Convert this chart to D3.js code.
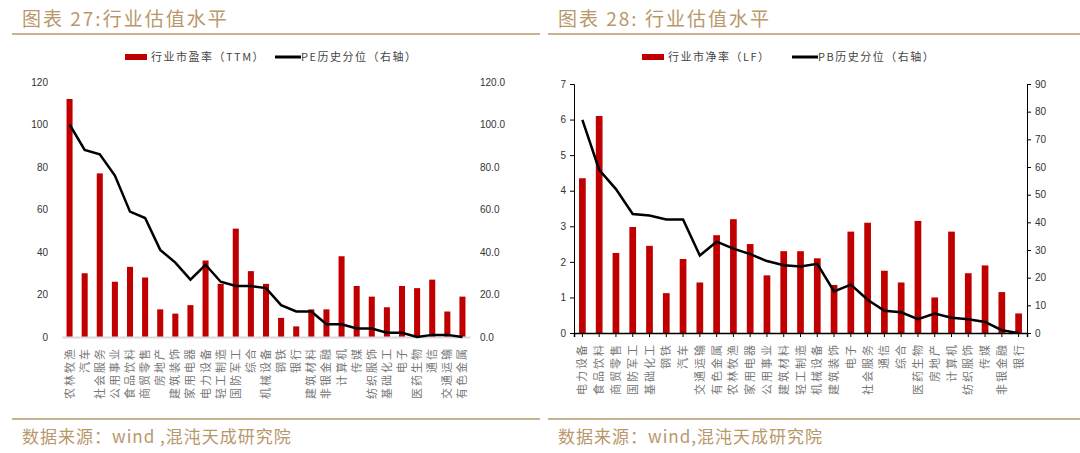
<!DOCTYPE html>
<html><head><meta charset="utf-8">
<script src="https://cdn.jsdelivr.net/npm/d3@7"></script>
<style>body{margin:0;background:#fff}text{font-family:"Noto Sans CJK SC",sans-serif}</style>
</head><body><svg id="c" width="1080" height="453"></svg>
<script>
"use strict"
const peCats = ["农林牧渔","汽车","社会服务","公用事业","食品饮料","商贸零售","房地产","建筑装饰","家用电器","电力设备","轻工制造","国防军工","综合","机械设备","钢铁","银行","建筑材料","非银金融","计算机","传媒","纺织服饰","基础化工","电子","医药生物","通信","交通运输","有色金属"];
const peVals = [112,30,77,26,33,28,13,11,15,36,25,51,31,25,9,5,13,13,38,24,19,14,24,23,27,12,19];
const pePct = [100,88,86,76,59,56,41,35,27,34,26,24,24,23,15,12,12,6,6,4,4,2,2,0,1,1,0];
const pbCats = ["电力设备","食品饮料","商贸零售","国防军工","基础化工","钢铁","汽车","交通运输","有色金属","农林牧渔","家用电器","公用事业","建筑材料","轻工制造","机械设备","建筑装饰","电子","社会服务","通信","综合","医药生物","房地产","计算机","纺织服饰","传媒","非银金融","银行"];
const pbVals = [4.35,6.1,2.25,2.98,2.45,1.12,2.08,1.42,2.75,3.2,2.5,1.62,2.3,2.3,2.1,1.35,2.85,3.1,1.75,1.42,3.15,1.0,2.85,1.68,1.9,1.15,0.55];
const pbPct = [77,59,52,43,42.5,41,41,28,33,30.5,28.5,26,24.5,24,25,15,17.5,12,8,7.5,5,7,5.5,5,4,1,0];

const svg = d3.select("#c");
const brown = "#b8976b";

function header(x0, x1, title, src) {
    svg.append("text").attr("x", x0 + 10).attr("y", 26).attr("fill", brown)
        .style("font-size", "19px").style("letter-spacing", "2px").text(title);
    svg.append("line").attr("x1", x0).attr("x2", x1).attr("y1", 34).attr("y2", 34)
        .attr("stroke", brown).attr("stroke-width", 1.5);
    svg.append("line").attr("x1", x0).attr("x2", x1).attr("y1", 419).attr("y2", 419)
        .attr("stroke", brown).attr("stroke-width", 1.5);
    svg.append("text").attr("x", x0 + 10).attr("y", 443).attr("fill", brown)
        .style("font-size", "17px").style("letter-spacing", "1px").text(src);
}

function legend(x, barLabel, lineLabel) {
    const g = svg.append("g").attr("transform", "translate(" + x + ",57)");
    g.append("rect").attr("x", 0).attr("y", -3).attr("width", 22).attr("height", 6).attr("fill", "#c00000");
    g.append("text").attr("x", 26).attr("y", 4).style("font-size", "11px").style("letter-spacing", "1.5px").attr("fill", "#444").text(barLabel);
    g.append("line").attr("x1", 150).attr("x2", 176).attr("stroke", "#000").attr("stroke-width", 3);
    g.append("text").attr("x", 176).attr("y", 4).style("font-size", "11px").style("letter-spacing", "1.5px").attr("fill", "#444").text(lineLabel);
}

function chart(o) {
    const x = d3.scaleBand().domain(o.cats).range([o.x0, o.x1]).paddingInner(0.6).paddingOuter(0.3);
    const yL = d3.scaleLinear().domain([0, o.lMax]).range([o.yb, o.yt]);
    const yR = d3.scaleLinear().domain([0, o.rMax]).range([o.yb, o.yt]);
    const ax = svg.append("g").style("font-size", "11px");
    const la = ax.append("g").attr("transform", "translate(" + o.x0 + ",0)")
        .call(d3.axisLeft(yL).tickValues(o.lTicks).tickFormat(o.lFmt).tickSize(o.axisLines ? 4 : 0).tickPadding(o.axisLines ? 4 : 14));
    const ra = ax.append("g").attr("transform", "translate(" + o.x1 + ",0)")
        .call(d3.axisRight(yR).tickValues(o.rTicks).tickFormat(o.rFmt).tickSize(o.axisLines ? 4 : 0).tickPadding(o.axisLines ? 4 : 10));
    [la, ra].forEach(a => {
        a.selectAll("text").attr("fill", "#333").style("font-family", "Liberation Sans, sans-serif");
        if (!o.axisLines) a.select(".domain").remove();
        else a.selectAll("line,path").attr("stroke", "#000");
    });
    svg.append("g").selectAll("rect").data(o.vals).enter().append("rect")
        .attr("x", (d, i) => x(o.cats[i])).attr("width", x.bandwidth())
        .attr("y", d => yL(d)).attr("height", d => o.yb - yL(d)).attr("fill", "#c00000");
    const xa = svg.append("g").attr("transform", "translate(0," + o.yb + ")")
        .call(d3.axisBottom(x).tickSize(o.axisLines ? 4 : 0).tickFormat(""));
    xa.select(".domain").attr("stroke", o.axisLines ? "#000" : "#d9d9d9").attr("stroke-width", o.axisLines ? 1.5 : 2);
    xa.selectAll("line").attr("stroke", "#000");
    svg.append("path").datum(o.pct)
        .attr("d", d3.line().x((d, i) => x(o.cats[i]) + x.bandwidth() / 2).y(d => yR(d)))
        .attr("fill", "none").attr("stroke", "#000").attr("stroke-width", 2.5);
    // rotated category labels, end aligned under the axis
    svg.append("g").selectAll("text").data(o.cats).enter().append("text")
        .attr("transform", d => "translate(" + (x(d) + x.bandwidth() / 2 + 4) + "," + (o.yb + 10) + ") rotate(-90)")
        .attr("text-anchor", "end").style("font-size", "11px").style("letter-spacing", "2px")
        .attr("fill", "#777").text(d => d);
}

header(12, 540, "图表 27:行业估值水平", "数据来源：wind ,混沌天成研究院");
header(548, 1080, "图表 28: 行业估值水平", "数据来源：wind,混沌天成研究院");
legend(125, "行业市盈率（TTM）", "PE历史分位（右轴）");
legend(642, "行业市净率（LF）", "PB历史分位（右轴）");

chart({cats: peCats, vals: peVals, pct: pePct, x0: 62, x1: 470, yt: 82, yb: 337,
    lMax: 120, rMax: 120, lTicks: d3.range(0, 121, 20), rTicks: d3.range(0, 121, 20),
    lFmt: d3.format("d"), rFmt: d3.format(".1f"), axisLines: false});
chart({cats: pbCats, vals: pbVals, pct: pbPct, x0: 574, x1: 1027, yt: 84, yb: 333,
    lMax: 7, rMax: 90, lTicks: d3.range(0, 8), rTicks: d3.range(0, 91, 10),
    lFmt: d3.format("d"), rFmt: d3.format("d"), axisLines: true});
</script></body></html>
